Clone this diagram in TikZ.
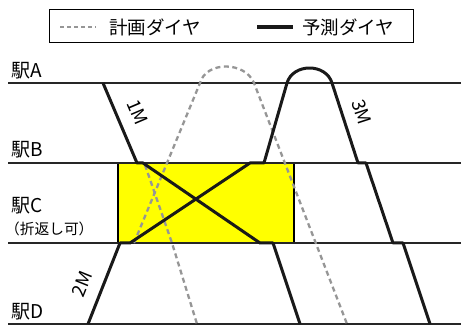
\documentclass[tikz,border=0pt]{standalone}
\usepackage{fontspec}
\setmainfont{Noto Sans CJK JP}
\usetikzlibrary{positioning}
\definecolor{plangray}{RGB}{150,150,150}
\definecolor{turnyellow}{RGB}{255,255,0}

\begin{document}
\begin{tikzpicture}[x=1pt, y=-1pt,
    station/.style={draw=black!85, line width=2pt},
    planned/.style={draw=plangray, line width=2.3pt, dash pattern=on 5pt off 3.5pt},
    predicted/.style={draw=black!90, line width=3pt, line join=round},
    stationlabel/.style={font=\fontsize{19}{21}\selectfont, anchor=base west, inner sep=0pt},
    trainlabel/.style={font=\fontsize{18.5}{20}\selectfont, inner sep=0pt},
    legendtext/.style={font=\fontsize{18.5}{20}\selectfont, anchor=west, inner sep=0pt}
]
\useasboundingbox (0,0) rectangle (461,331);

% Legend
\node[draw, line width=1pt, minimum width=364pt, minimum height=33pt, inner sep=0pt] (legend) at (231,26.5) {};
\draw[planned, line width=2pt, dash pattern=on 4pt off 3pt] (60,27) -- (96,27);
\node[legendtext] (plantext) at (109,27) {計画ダイヤ};
\draw[predicted, line width=3.5pt] (257,27) -- (293,27);
\node[legendtext] (predtext) at (302,27) {予測ダイヤ};

% Turnback area at station C
\draw[fill=turnyellow, line width=1.2pt] (118,163) rectangle (294,243);

% Stations
\draw[station] (8,83) -- (461,83);
\draw[station] (8,163) -- (461,163);
\draw[station] (8,243) -- (461,243);
\draw[station] (8,324) -- (461,324);

\node[stationlabel] (staA) at (11,78) {駅A};
\node[stationlabel] (staB) at (11,157) {駅B};
\node[stationlabel] (staC) at (11,213) {駅C};
\node[stationlabel, font=\fontsize{14.7}{16}\selectfont] (staCnote) at (5,235) {（折返し可）};
\node[stationlabel] (staD) at (11,319) {駅D};

% Planned diagram
\draw[planned] (145,165) -- (172,243) -- (197,324);
\draw[planned] (134,243) -- (200,83)
    .. controls (206,61) and (245,61) .. (254,83) -- (347,324);

% Predicted diagram
\draw[predicted] (103,83) -- (137,163) -- (143,163) -- (260,243) -- (273,243) -- (300,324);
\draw[predicted] (88,324) -- (120,243) -- (130,243) -- (250,163) -- (264,163) -- (287,83)
    .. controls (293,63) and (326,63) .. (332,83) -- (358,163) -- (366,163)
    -- (393,243) -- (403,243) -- (430,324);

% Train numbers
\node[trainlabel, rotate=-67] (train1) at (138,112) {1M};
\node[trainlabel, rotate=68] (train2) at (82,284) {2M};
\node[trainlabel, rotate=-72] (train3) at (362,112) {3M};

\end{tikzpicture}
\end{document}
